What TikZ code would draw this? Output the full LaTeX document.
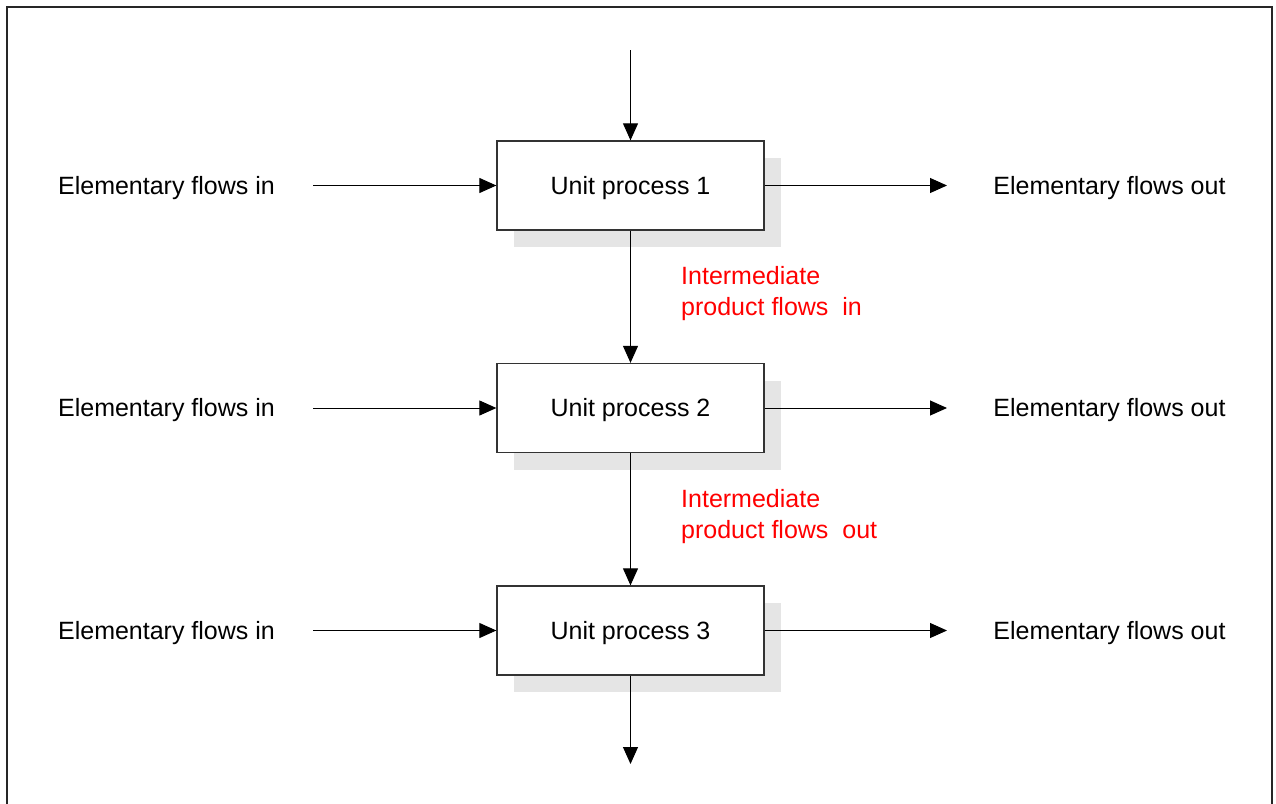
\documentclass[tikz,border=0pt]{standalone}
\usepackage{fontspec}
\setmainfont{Liberation Sans}
\usetikzlibrary{arrows.meta}
\begin{document}
\begin{tikzpicture}[x=1pt,y=-1pt,
  procbox/.style={draw=black!80,line width=1.3pt,fill=white,minimum width=267pt,minimum height=89pt,inner sep=0pt,font=\fontsize{25}{30}\selectfont,text depth=1pt},
  shadowbox/.style={fill=black!10,draw=none,minimum width=267pt,minimum height=89pt,inner sep=0pt},
  flowlabel/.style={font=\fontsize{25}{30}\selectfont,inner sep=0pt,text depth=1pt},
  redlabel/.style={font=\fontsize{25}{31}\selectfont,text=red,align=left,inner sep=0pt,anchor=north west},
  flow/.style={line width=1pt,-{Triangle[width=15pt,length=17pt]}}]
\useasboundingbox (0,0) rectangle (1276,803);
\fill[white] (0,0) rectangle (1276,803);
\draw[line width=2pt,black!85] (7,805) -- (7,7) -- (1272,7) -- (1272,805);
\foreach \i/\y in {1/185.5,2/408,3/630.5}{
  \node[shadowbox] (s\i) at (647.5,\y+17) {};
  \node[procbox] (p\i) at (630.5,\y) {Unit process \i};
  \node[flowlabel] (in\i) at (166.5,\y) {Elementary flows in};
  \node[flowlabel] (out\i) at (1109.5,\y) {Elementary flows out};
  \coordinate (ia\i) at (313,\y);
  \coordinate (ob\i) at (947,\y);
  \draw[flow] (ia\i) -- (p\i.west);
  \draw[flow] (p\i.east) -- (ob\i);
}
\coordinate (top) at (630.5,50);
\coordinate (bot) at (630.5,764);
\draw[flow] (top) -- (p1.north);
\draw[flow] (p1.south) -- (p2.north);
\draw[flow] (p2.south) -- (p3.north);
\draw[flow] (p3.south) -- (bot);
\node[redlabel] (r1) at (681,266) {Intermediate\\product flows\ \ in};
\node[redlabel] (r2) at (681,489) {Intermediate\\product flows\ \ out};
\end{tikzpicture}
\end{document}
